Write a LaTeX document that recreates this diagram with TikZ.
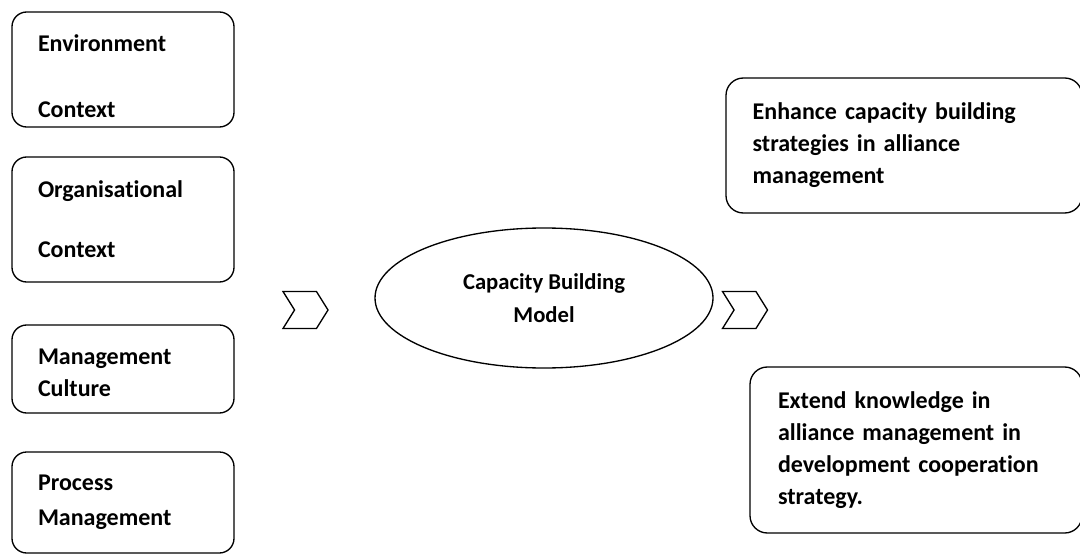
\documentclass[tikz,border=0pt]{standalone}
\usepackage{fontspec}
\setmainfont{Carlito}[Ligatures=NoCommon]
\usetikzlibrary{positioning,shapes.geometric,shapes.symbols}

\begin{document}
\begin{tikzpicture}[x=.75pt,y=.75pt,
  txt/.style={font=\bfseries\fontsize{18}{24}\selectfont},
  factor/.style={txt,draw,line width=1pt,rounded corners=11pt,align=left,
    minimum width=166.5pt,text width=127.5pt,inner xsep=19.5pt,inner ysep=0pt},
  outcome/.style={txt,draw,line width=1pt,rounded corners=13pt,align=left,inner ysep=0pt},
  model/.style={ellipse,draw,line width=1pt,align=center,
    font=\bfseries\fontsize{17}{24}\selectfont,
    minimum width=253.5pt,minimum height=105pt,inner sep=0pt},
  chevron/.style={signal,signal from=west,signal to=east,signal pointer angle=116,
    draw,line width=1pt,minimum width=33.75pt,minimum height=27.75pt,inner sep=0pt}]
\useasboundingbox (0,0) rectangle (1080,554);

% factors on the left (empty first line pushes the text down a bit)
\foreach \num/\y/\h/\title in {
1/484.5/86.25/{\mbox{}\\[-2pt]Environment\\[25.5pt]Context},
2/334.5/93.75/{Organisational\\[21pt]Context},
3/185/66/{\mbox{}\\[-7pt]Management\\Culture},
4/51.5/75.75/{Process\\[2pt]Management}}
{
  \node[factor,minimum height=\h pt] (f\num) at (123,\y) {\title};
}

% model in the middle
\node[model] (cbm) at (544,256) {Capacity Building\\[1pt]Model};
\node[chevron] (in) at (305.5,244) {};
\node[chevron] (out) at (745,244) {};

% outcomes on the right
\node[outcome,minimum width=267pt,minimum height=101.25pt,text width=227pt,inner xsep=20pt]
  (o1) at (904,408.5) {Enhance capacity building\\strategies in alliance\\management};
\node[outcome,minimum width=249pt,minimum height=124.5pt,text width=207pt,inner xsep=21pt]
  (o2) at (916,104) {Extend knowledge in\\alliance management in\\development cooperation\\strategy.};
\end{tikzpicture}
\end{document}
